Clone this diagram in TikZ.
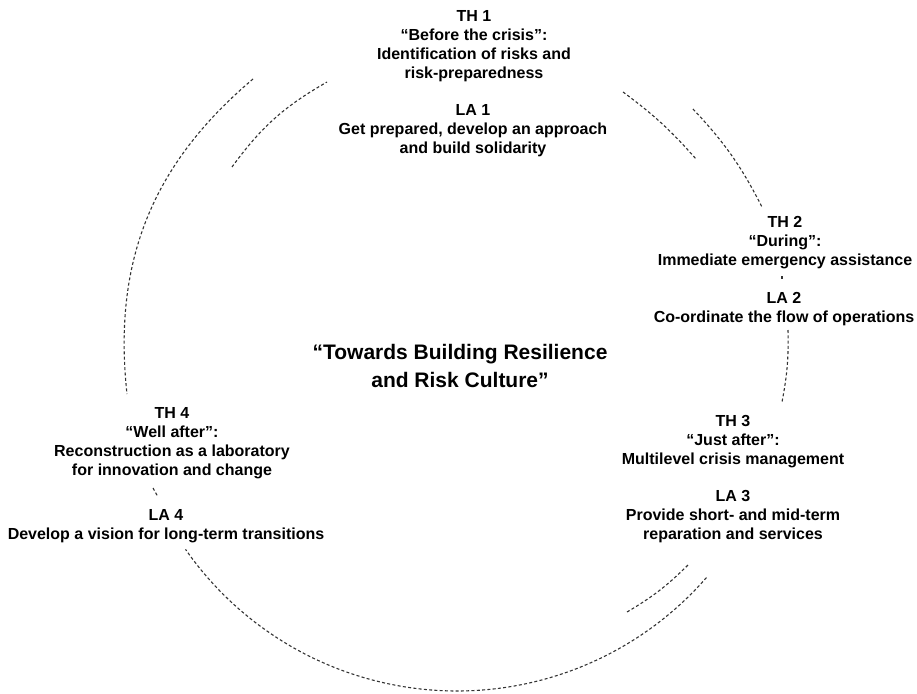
\documentclass[tikz,border=0pt]{standalone}
\usepackage{fontspec}
\setmainfont{Liberation Sans}
\begin{document}
\begin{tikzpicture}[x=1pt,y=-1pt,
  txt/.style={align=center,inner sep=0pt,font=\bfseries\fontsize{16}{19}\selectfont,text=black},
  bigtxt/.style={align=center,inner sep=0pt,font=\bfseries\fontsize{21}{28}\selectfont,text=black},
  dsh/.style={draw=black!80,line width=1.1pt,dash pattern=on 3pt off 2.3pt}]
\useasboundingbox (0,0) rectangle (917,693);
% text blocks
\node[txt] (th1) at (474,46.5) {TH 1\\“Before the crisis”:\\Identification of risks and\\risk-preparedness};
\node[txt] (la1) at (473,130.5) {LA 1\\Get prepared, develop an approach\\and build solidarity};
\node[txt] (th2) at (785,243) {TH 2\\“During”:\\Immediate emergency assistance};
\node[txt] (la2) at (784,309) {LA 2\\Co-ordinate the flow of operations};
\node[txt] (th3) at (733,442) {TH 3\\“Just after”:\\Multilevel crisis management};
\node[txt] (la3) at (733,517) {LA 3\\Provide short- and mid-term\\reparation and services};
\node[txt] (th4) at (172,443.5) {TH 4\\“Well after”:\\Reconstruction as a laboratory\\for innovation and change};
\node[txt] (la4) at (166,526) {LA 4\\Develop a vision for long-term transitions};
\node[bigtxt] (mid) at (460,366) {“Towards Building Resilience\\and Risk Culture”};
% arc end points
\coordinate (a1s) at (253,79);  \coordinate (a1e) at (127,394);
\coordinate (a2s) at (232,167); \coordinate (a2e) at (327,82);
\coordinate (a3s) at (623,92);  \coordinate (a3e) at (696,159);
\coordinate (a4s) at (693,109); \coordinate (a4e) at (762,207);
\coordinate (a5s) at (788,330); \coordinate (a5e) at (782,402);
\coordinate (a6s) at (782,276); \coordinate (a6e) at (782,279);
\coordinate (a7s) at (627,612); \coordinate (a7e) at (688,565);
\coordinate (a8s) at (153,488); \coordinate (a8e) at (158,497);
% arcs
\draw[dsh] (a1s) to[bend right=28] (a1e);
\draw[dsh] (a2s) to[bend left=12] (a2e);
\draw[dsh] (a3s) to[bend left=6] (a3e);
\draw[dsh] (a4s) to[bend left=8] (a4e);
\draw[dsh] (a5s) to[bend left=6] (a5e);
\draw[dsh] (a6s) -- (a6e);
\draw[dsh] (a7s) to[bend right=7] (a7e);
\draw[dsh] (a8s) -- (a8e);
\draw[dsh] plot[domain=41.1:145.1,samples=80,smooth] ({457+331*cos(\x)},{360+331*sin(\x)});
\end{tikzpicture}
\end{document}
